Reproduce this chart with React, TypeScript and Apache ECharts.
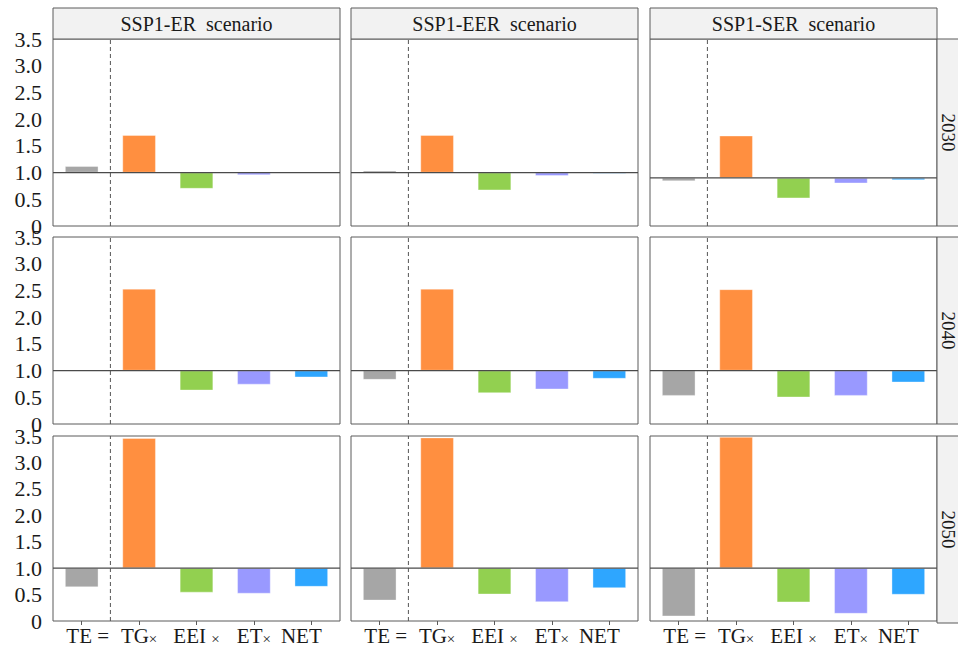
import React, { useEffect, useRef } from "react";
import * as echarts from "echarts";

// ---------- data ----------
const categories = ["TE", "TG", "EEI", "ET", "NET"];
const xTickLabels = ["TE =", "TG×", "EEI ×", "ET×", "NET"];
const scenarios = ["SSP1-ER  scenario", "SSP1-EER  scenario", "SSP1-SER  scenario"];
const years = ["2030", "2040", "2050"];
const yTicks = [0, 0.5, 1, 1.5, 2, 2.5, 3, 3.5];
const baselineValue = 1;

// values in order [TE, TG, EEI, ET, NET]
const er2030 = [1.12, 1.7, 0.7, 0.955, 0.995];
const eer2030 = [1.035, 1.7, 0.67, 0.94, 0.98];
const ser2030 = [0.94, 1.79, 0.62, 0.9, 0.96];
const er2040 = [1.0, 2.53, 0.63, 0.74, 0.875];
const eer2040 = [0.83, 2.53, 0.58, 0.65, 0.85];
const ser2040 = [0.53, 2.52, 0.5, 0.53, 0.78];
const er2050 = [0.64, 3.46, 0.54, 0.52, 0.65];
const eer2050 = [0.39, 3.47, 0.505, 0.36, 0.625];
const ser2050 = [0.09, 3.48, 0.355, 0.14, 0.5];

const panels = [
  [er2030, eer2030, ser2030],
  [er2040, eer2040, ser2040],
  [er2050, eer2050, ser2050],
];

// ---------- style / layout ----------
const barColors = ["#A6A6A6", "#FF8F40", "#92D050", "#9999FF", "#2EA6FF"];
const colLeft = [53, 351, 650];
const colWidth = 287;
const rowTop = [39, 237, 436];
const rowHeight = 187;
const panelYMin = [
  [0, 0, 0.1],
  [0, 0, 0],
  [0, 0, 0],
];
const yRange = 3.5;
const FONT = "'Liberation Serif', 'Times New Roman', serif";
const BORDER = "#5a5a5a";
const TEXT = "#1a1a1a";

function buildOption() {
  const grid: any[] = [];
  const xAxis: any[] = [];
  const yAxis: any[] = [];
  const series: any[] = [];
  const graphic: any[] = [];

  for (let r = 0; r < 3; r++) {
    for (let c = 0; c < 3; c++) {
      const i = r * 3 + c;
      const vals = panels[r][c];
      const ymin = panelYMin[r][c];
      const ymax = ymin + yRange;
      grid.push({
        left: colLeft[c],
        top: rowTop[r],
        width: colWidth,
        height: rowHeight,
        show: true,
        borderColor: BORDER,
        borderWidth: 1,
        backgroundColor: "#fff",
        containLabel: false,
      });
      const bottomRow = r === 2;
      xAxis.push({
        type: "category",
        gridIndex: i,
        data: categories,
        position: "bottom",
        axisLine: { show: false },
        axisTick: {
          show: bottomRow,
          alignWithLabel: true,
          length: 4,
          lineStyle: { color: BORDER },
        },
        splitLine: { show: false },
        axisLabel: {
          show: bottomRow,
          margin: 3,
          interval: 0,
          formatter: (_v: string, idx: number) => {
            const lbl = xTickLabels[idx];
            const style = idx === 0 ? "first" : idx === categories.length - 1 ? "last" : "a";
            const parts = lbl.split("×");
            if (parts.length === 1) return `{${style}|${lbl}}`;
            return `{${style}|${parts[0]}}{x|×}${parts[1] ? `{${style}|${parts[1]}}` : ""}`;
          },
          rich: {
            a: { fontSize: 21, fontFamily: FONT, color: TEXT, verticalAlign: "bottom", lineHeight: 22 },
            first: {
              fontSize: 21,
              fontFamily: FONT,
              color: TEXT,
              verticalAlign: "bottom",
              lineHeight: 22,
              padding: [0, 0, 0, 12],
            },
            last: {
              fontSize: 21,
              fontFamily: FONT,
              color: TEXT,
              verticalAlign: "bottom",
              lineHeight: 22,
              padding: [0, 20, 0, 0],
            },
            x: { fontSize: 15, fontFamily: FONT, color: TEXT, verticalAlign: "bottom", lineHeight: 22 },
          },
        },
      });
      xAxis.push({
        type: "value",
        gridIndex: i,
        min: 0,
        max: categories.length,
        show: false,
        position: "top",
      });
      yAxis.push({
        type: "value",
        gridIndex: i,
        min: ymin,
        max: ymax,
        interval: 0.5,
        axisLine: { show: false },
        axisTick: { show: false },
        splitLine: { show: false },
        axisLabel: {
          show: c === 0,
          margin: 11,
          fontSize: 22,
          fontFamily: FONT,
          color: TEXT,
          showMinLabel: true,
          showMaxLabel: true,
          formatter: (v: number) => {
            const t = yTicks.find((k) => Math.abs(k - v) < 1e-6);
            if (t === undefined) return "";
            return t === 0 ? "0" : t.toFixed(1);
          },
        },
      });
      const stack = `s${i}`;
      series.push({
        type: "bar",
        xAxisIndex: 2 * i,
        yAxisIndex: i,
        stack,
        silent: true,
        barWidth: "58%",
        itemStyle: { color: "rgba(0,0,0,0)" },
        data: vals.map((v) => Math.min(v, baselineValue)),
      });
      series.push({
        type: "bar",
        xAxisIndex: 2 * i,
        yAxisIndex: i,
        stack,
        silent: true,
        barWidth: "58%",
        data: vals.map((v, k) => ({
          value: Math.abs(v - baselineValue),
          itemStyle: { color: barColors[k], borderColor: "rgba(255,255,255,0.6)", borderWidth: 0.6 },
        })),
      });
      series.push({
        type: "line",
        xAxisIndex: 2 * i + 1,
        yAxisIndex: i,
        silent: true,
        symbol: "none",
        z: 5,
        lineStyle: { color: "#4a4a4a", width: 1.2 },
        data: [
          [0, baselineValue],
          [categories.length, baselineValue],
        ],
      });
      series.push({
        type: "line",
        xAxisIndex: 2 * i + 1,
        yAxisIndex: i,
        silent: true,
        symbol: "none",
        z: 5,
        lineStyle: { color: "#555", width: 1, type: [4, 3] },
        data: [
          [1, ymin],
          [1, ymax],
        ],
      });
    }
  }

  // strips
  for (let c = 0; c < 3; c++) {
    graphic.push({
      type: "rect",
      shape: { x: colLeft[c], y: 8, width: colWidth, height: rowTop[0] - 8 },
      style: { fill: "#f2f2f2", stroke: BORDER, lineWidth: 1 },
      z: 10,
    });
    graphic.push({
      type: "text",
      x: colLeft[c] + colWidth / 2,
      y: 8 + (rowTop[0] - 8) / 2,
      style: {
        text: scenarios[c],
        fontSize: 20,
        fontFamily: FONT,
        fill: TEXT,
        align: "center",
        verticalAlign: "middle",
      },
      z: 11,
    });
  }
  const stripX = colLeft[2] + colWidth;
  for (let r = 0; r < 3; r++) {
    graphic.push({
      type: "rect",
      shape: { x: stripX, y: rowTop[r], width: 30, height: rowHeight },
      style: { fill: "#f2f2f2", stroke: BORDER, lineWidth: 1 },
      z: 10,
    });
    graphic.push({
      type: "text",
      x: stripX + 11,
      y: rowTop[r] + rowHeight / 2,
      rotation: -Math.PI / 2,
      style: {
        text: years[r],
        fontSize: 19,
        fontFamily: FONT,
        fill: TEXT,
        align: "center",
        verticalAlign: "middle",
      },
      z: 11,
    });
  }

  return {
    animation: false,
    backgroundColor: "#fff",
    grid,
    xAxis,
    yAxis,
    series,
    graphic,
  };
}

export default function App() {
  const ref = useRef<HTMLDivElement>(null);
  useEffect(() => {
    document.body.style.margin = "0";
    if (!ref.current) return;
    const chart = echarts.init(ref.current, undefined, { renderer: "svg" });
    chart.setOption(buildOption());
    return () => chart.dispose();
  }, []);
  return <div ref={ref} style={{ width: 958, height: 646 }} />;
}
